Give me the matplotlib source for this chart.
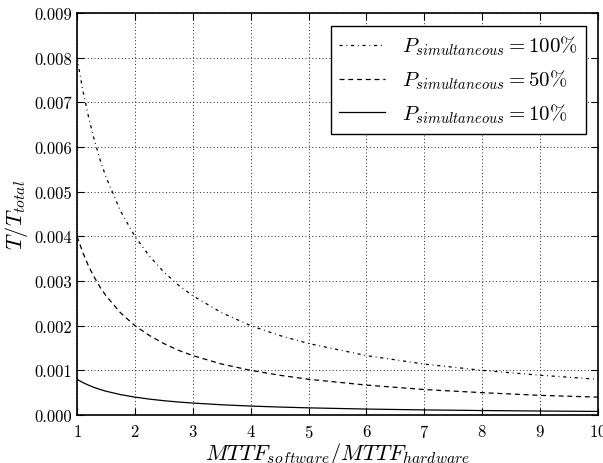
import numpy as np
import matplotlib
matplotlib.use('Agg')
import matplotlib.pyplot as plt

plt.rcParams['font.family'] = 'serif'
plt.rcParams['font.serif'] = ['cmr10']
plt.rcParams['mathtext.fontset'] = 'cm'
plt.rcParams['axes.formatter.use_mathtext'] = True

# ratio MTTF_software / MTTF_hardware
ratio = [1.0, 1.1, 1.2, 1.3, 1.4, 1.5, 1.75, 2.0, 2.25, 2.5, 2.75, 3.0, 3.5,
         4.0, 4.5, 5.0, 6.0, 7.0, 8.0, 9.0, 10.0]
# T / T_total
p100 = [0.00800, 0.00727, 0.00667, 0.00615, 0.00571, 0.00533, 0.00457, 0.00400,
        0.00356, 0.00320, 0.00291, 0.00267, 0.00229, 0.00200, 0.00178, 0.00160,
        0.00133, 0.00114, 0.00100, 0.00089, 0.00080]
p50 = [0.00400, 0.00364, 0.00333, 0.00308, 0.00286, 0.00267, 0.00229, 0.00200,
       0.00178, 0.00160, 0.00145, 0.00133, 0.00114, 0.00100, 0.00089, 0.00080,
       0.00067, 0.00057, 0.00050, 0.00044, 0.00040]
p10 = [0.000800, 0.000727, 0.000667, 0.000615, 0.000571, 0.000533, 0.000457,
       0.000400, 0.000356, 0.000320, 0.000291, 0.000267, 0.000229, 0.000200,
       0.000178, 0.000160, 0.000133, 0.000114, 0.000100, 0.000089, 0.000080]

labels = [r'$P_{simultaneous} = 100\%$', r'$P_{simultaneous} = 50\%$',
          r'$P_{simultaneous} = 10\%$']

fig = plt.figure(figsize=(6.03, 4.64), dpi=100)
ax = fig.add_axes([77 / 603, 48 / 464, 521 / 603, 402 / 464])

ax.plot(ratio, p100, 'k', ls=(0, (2.5, 3, 0.7, 3)), lw=0.9, label=labels[0])
ax.plot(ratio, p50, 'k', ls=(0, (4, 3)), lw=0.9, label=labels[1])
ax.plot(ratio, p10, 'k-', lw=0.9, label=labels[2])

ax.set_xlim(1, 10)
ax.set_ylim(0, 0.009)
ax.set_xticks(range(1, 11))
ax.set_yticks(np.arange(0, 0.0091, 0.001))
ax.set_yticklabels(['%.3f' % v for v in np.arange(0, 0.0091, 0.001)])
ax.grid(True, color='0.15', linestyle=(0, (1, 2.5)), linewidth=0.7)
ax.tick_params(direction='in', top=True, right=True, length=5, labelsize=12)
ax.tick_params(axis='x', pad=6)
for s in ax.spines.values():
    s.set_linewidth(1.2)

ax.set_xlabel(r'$MTTF_{software}/MTTF_{hardware}$', fontsize=16, labelpad=0)
ax.set_ylabel(r'$T/T_{total}$', fontsize=16, labelpad=3)

leg = ax.legend(loc='upper right', fontsize=15, fancybox=False, framealpha=1,
                edgecolor='k', handlelength=2.2, borderaxespad=0.6)
leg.get_frame().set_linewidth(1.0)

fig.savefig('out.png', dpi=100)
